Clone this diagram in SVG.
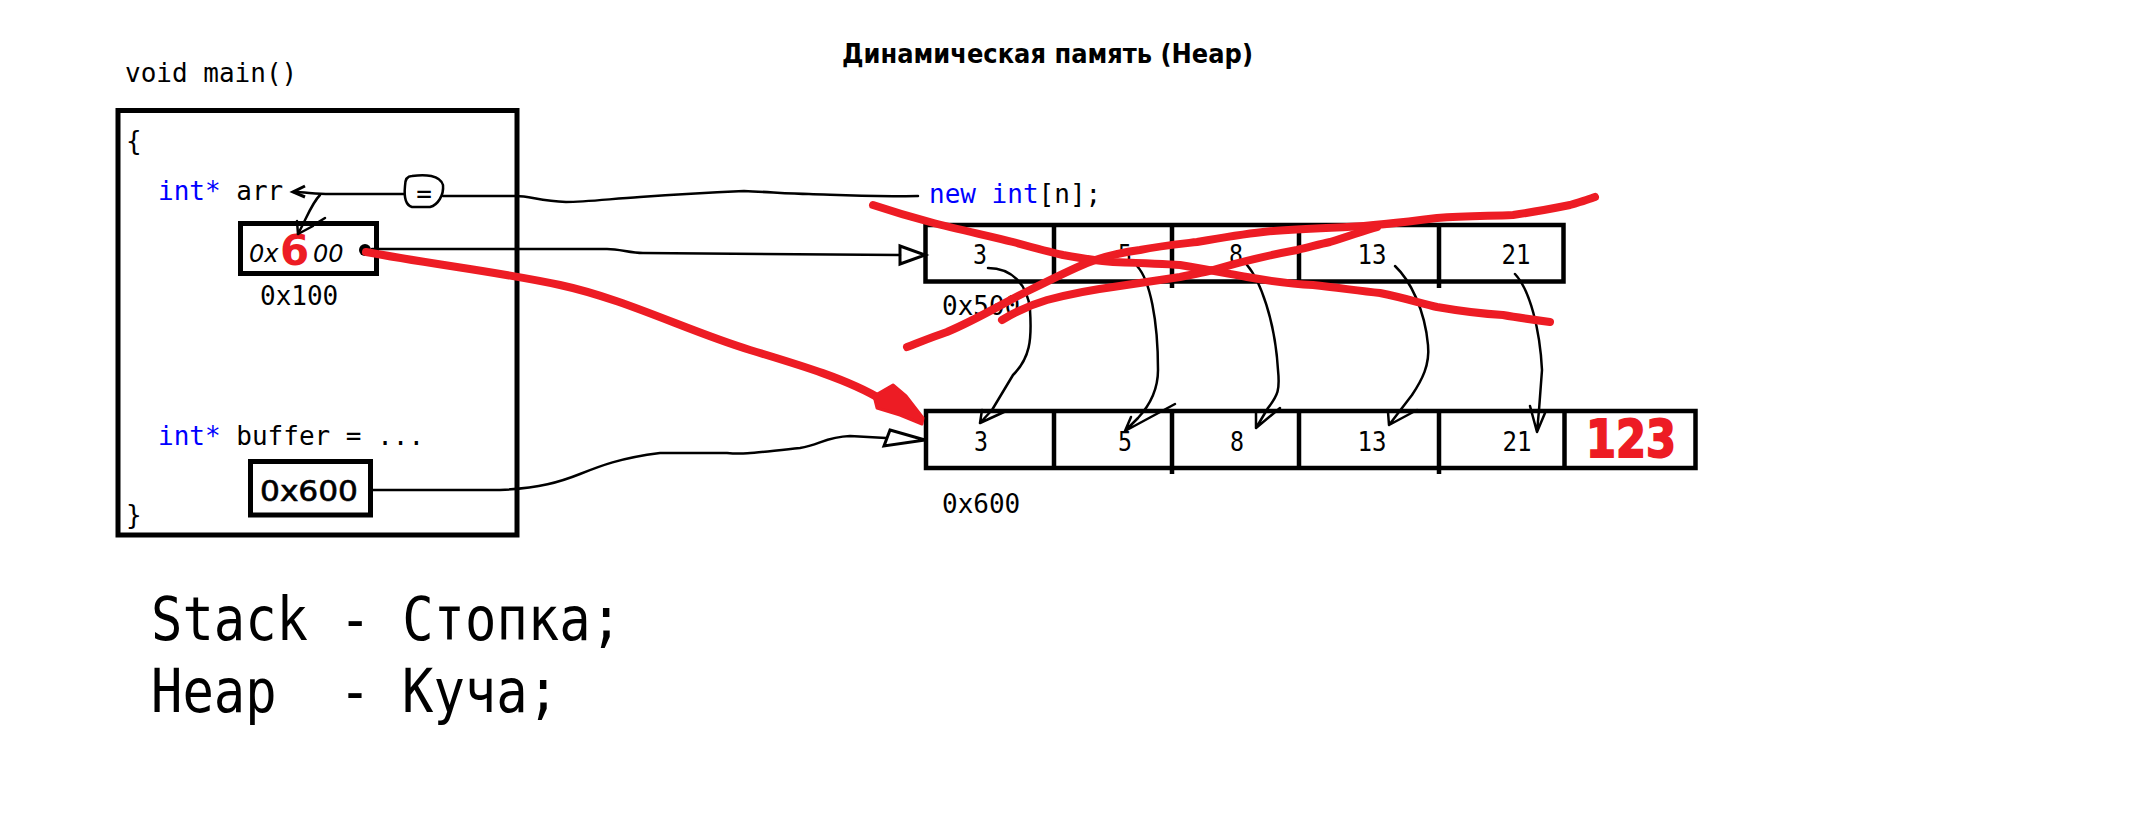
<svg xmlns="http://www.w3.org/2000/svg" width="2144" height="830" viewBox="0 0 2144 830">
<style>
.code{font-family:"DejaVu Sans Mono","Liberation Mono",monospace;font-size:26px;fill:#000}
.kw{fill:#0000FF}
.num{font-family:"DejaVu Sans Mono","Liberation Mono",monospace;font-size:26px;fill:#000;text-anchor:middle}
.big{font-family:"DejaVu Sans Mono","Liberation Mono",monospace;font-size:60px;fill:#000}
.title{font-family:"DejaVu Sans","Liberation Sans",sans-serif;font-weight:bold;font-size:26px;fill:#000}
.hand{font-family:"DejaVu Sans","Liberation Sans",sans-serif;fill:#000}
.box{fill:none;stroke:#000;stroke-width:5}
.cell{fill:none;stroke:#000;stroke-width:4.5}
.thin{fill:none;stroke:#000;stroke-width:2.5;stroke-linecap:round;stroke-linejoin:round}
.head{fill:none;stroke:#000;stroke-width:3;stroke-linejoin:miter}
.red{fill:none;stroke:#ED1C24;stroke-width:8;stroke-linecap:round;stroke-linejoin:round}
.redfill{fill:#ED1C24;stroke:#ED1C24;stroke-width:3;stroke-linejoin:round}
</style>
<rect width="2144" height="830" fill="#fff"/>

<g id="title">
<text class="title" x="842" y="63" textLength="411" lengthAdjust="spacingAndGlyphs">Динамическая память (Heap)</text>
</g>

<g id="stack-frame">
<text class="code" x="125" y="82">void main()</text>
<rect class="box" x="118" y="110.5" width="399" height="424.5"/>
<text class="code" x="126" y="150">{</text>
<text class="code" x="126" y="524">}</text>
<text class="code" x="158" y="200"><tspan class="kw">int*</tspan> arr</text>
<text class="code" x="158" y="445"><tspan class="kw">int*</tspan> buffer = ...</text>
</g>

<g id="arr-cell">
<rect class="box" x="240.5" y="223.5" width="136" height="50"/>
<text class="hand" x="249" y="262" font-size="24" font-style="italic">0x</text>
<text class="hand" x="280" y="265" font-size="42" font-weight="bold" style="fill:#ED1C24">6</text>
<text class="hand" x="313" y="262" font-size="24" font-style="italic">00</text>
<circle cx="365" cy="250" r="6" fill="#000"/>
<text class="code" x="260" y="305">0x100</text>
</g>

<g id="buffer-cell">
<rect class="box" x="250.5" y="461.5" width="120" height="53.5"/>
<text class="hand" x="260" y="501" font-size="28" textLength="98" lengthAdjust="spacingAndGlyphs" stroke="#000" stroke-width="0.6">0x600</text>
</g>

<g id="assign-bubble">
<path class="thin" d="M412,176 C425,174 440,175 443,185 C444,195 438,205 430,207 L412,207 C405,205 404,196 405,186 C405,179 408,176 412,176 Z"/>
<text class="code" x="424" y="203" font-size="22" text-anchor="middle">=</text>
</g>

<g id="new-expr">
<text class="code" x="929" y="203"><tspan class="kw">new int</tspan>[n];</text>
</g>

<g id="array-0x500">
<rect class="cell" x="925.5" y="225" width="638" height="56.5"/>
<path class="cell" d="M1054,225 V281.5 M1172,225 V288 M1299,225 V281.5 M1439,225 V288"/>
<text class="num" x="980" y="264" textLength="14" lengthAdjust="spacingAndGlyphs">3</text>
<text class="num" x="1125" y="264" textLength="14" lengthAdjust="spacingAndGlyphs">5</text>
<text class="num" x="1236" y="264" textLength="14" lengthAdjust="spacingAndGlyphs">8</text>
<text class="num" x="1372" y="264" textLength="29" lengthAdjust="spacingAndGlyphs">13</text>
<text class="num" x="1516" y="264" textLength="29" lengthAdjust="spacingAndGlyphs">21</text>
<text class="code" x="942" y="315">0x500</text>
</g>

<g id="array-0x600">
<rect class="cell" x="926" y="411" width="769.5" height="57"/>
<path class="cell" d="M1054,411 V468 M1172,411 V474 M1299,411 V468 M1439,411 V474 M1564.5,411 V468"/>
<text class="num" x="981" y="451" textLength="14" lengthAdjust="spacingAndGlyphs">3</text>
<text class="num" x="1125" y="451" textLength="14" lengthAdjust="spacingAndGlyphs">5</text>
<text class="num" x="1237" y="451" textLength="14" lengthAdjust="spacingAndGlyphs">8</text>
<text class="num" x="1372" y="451" textLength="29" lengthAdjust="spacingAndGlyphs">13</text>
<text class="num" x="1517" y="451" textLength="29" lengthAdjust="spacingAndGlyphs">21</text>
<text class="hand" x="1586" y="457" font-size="52" font-weight="bold" textLength="90" lengthAdjust="spacingAndGlyphs" style="fill:#ED1C24" stroke="#ED1C24" stroke-width="2">123</text>
<text class="code" x="942" y="513">0x600</text>
</g>

<g id="connectors">
<path class="thin" d="M404,194 L330,194 C315,194 305,192 294,192"/>
<path class="head" d="M305,186 L293,192 L305,197"/>
<path class="thin" d="M320,195 C312,203 308,215 298,234"/>
<path class="thin" d="M297,221 L298,234 L313,226 M312,226 L325,218"/>
<path class="thin" d="M443,196 L516,196 C530,196 540,201 566,202 C585,202 610,199 640,197 C680,194 720,192 744,191 C770,192 790,194 809,194 C840,195 860,197 918,196"/>
<path class="thin" d="M372,249 L607,249 C620,249 630,253 643,253 L900,255"/>
<polygon class="head" points="900,246 925,255 900,264"/>
<path class="thin" d="M371,490 L500,490 C540,488 560,482 580,474 C600,466 620,458 660,453 L727,453 C745,455 760,452 800,448 C820,445 825,437 850,436 L886,438"/>
<polygon class="head" points="890,430 925,440 884,446"/>
<path class="thin" d="M988,268 C1012,268 1028,285 1030,310 C1032,340 1030,358 1013,375 L992,410 L980,423 M982,410 L980,423 L1004,412"/>
<path class="thin" d="M1137,266 C1150,280 1158,320 1158,370 C1158,390 1150,405 1138,418 L1125,431 M1131,417 L1125,431 L1175,404"/>
<path class="thin" d="M1247,265 C1260,280 1275,320 1278,370 C1280,390 1278,395 1268,408 L1256,428 M1256,413 L1256,428 L1280,408"/>
<path class="thin" d="M1395,266 C1410,280 1425,310 1428,345 C1430,365 1422,380 1412,395 L1389,425 M1388,412 L1389,425 L1417,410"/>
<path class="thin" d="M1515,274 C1530,290 1540,330 1542,370 L1539,410 L1537,432 M1530,406 L1537,432 L1545,413"/>
<path class="red" d="M366,252 C430,264 500,272 560,285 C625,299 690,332 750,350 C800,365 850,380 882,400"/>
<polygon class="redfill" points="874,396 893,385 906,396 923,418 922,424 900,415 877,408"/>
<path class="red" d="M873,205 C900,214 915,218 930,222 C960,230 990,236 1013,242 C1035,248 1050,252 1063,255 C1085,259 1100,261 1113,262 C1140,263 1165,264 1180,265 C1210,270 1230,274 1247,277 C1270,281 1290,284 1313,285 C1340,288 1360,291 1380,293 C1405,298 1420,303 1437,307 C1460,311 1485,314 1503,315 C1520,318 1535,320 1550,322"/>
<path class="red" d="M907,347 C920,342 935,336 947,332 C980,318 1005,302 1030,290 C1050,280 1070,270 1087,263 C1105,256 1125,252 1140,250 C1160,246 1180,244 1197,242 C1220,238 1245,234 1263,232 C1290,229 1320,228 1347,227 C1370,226 1390,224 1437,218 C1465,216 1490,216 1513,215 C1535,212 1555,208 1570,205 C1580,202 1590,199 1595,197"/>
<path class="red" d="M1002,320 C1015,312 1030,305 1047,300 C1070,294 1090,290 1113,287 C1140,283 1160,280 1180,277 C1195,274 1205,272 1213,270 C1240,262 1270,255 1297,250 C1310,247 1320,244 1330,242 C1350,236 1365,230 1377,227"/>
</g>

<g id="legend">
<text class="big" x="151" y="640" textLength="471" lengthAdjust="spacingAndGlyphs">Stack - Стопка;</text>
<text class="big" x="151" y="712" textLength="408" lengthAdjust="spacingAndGlyphs" xml:space="preserve">Heap  - Куча;</text>
</g>
</svg>
